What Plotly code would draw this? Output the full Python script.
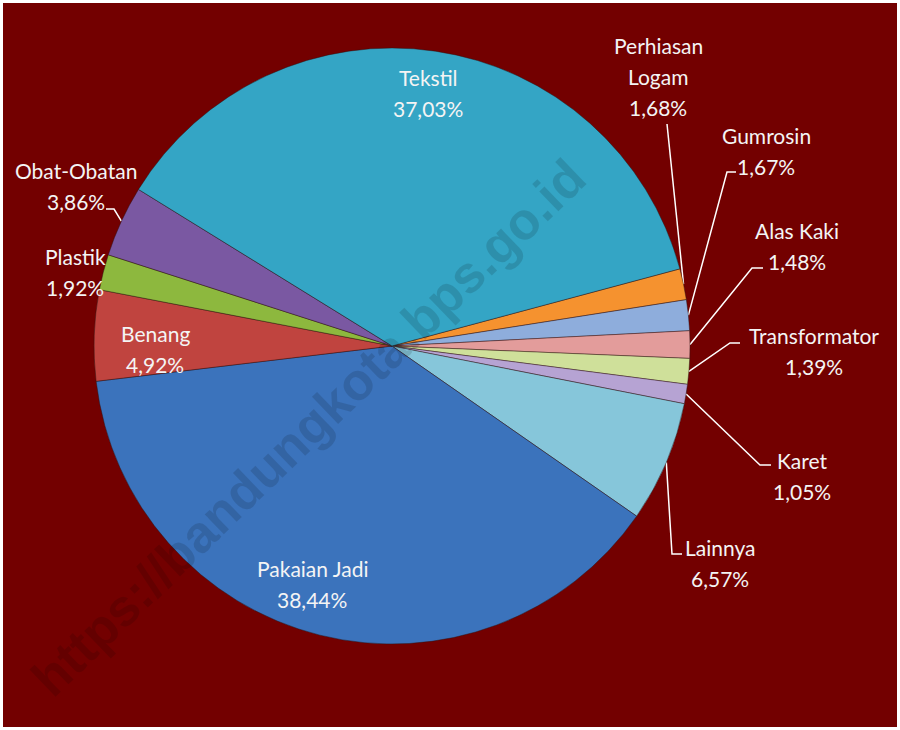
import math
import plotly.graph_objects as go

# ---- data (clockwise order, starting after Tekstil) ----
categories = ["Perhiasan Logam", "Gumrosin", "Alas Kaki", "Transformator", "Karet",
              "Lainnya", "Pakaian Jadi", "Benang", "Plastik", "Obat-Obatan", "Tekstil"]
values = [1.68, 1.67, 1.48, 1.39, 1.05, 6.57, 38.44, 4.92, 1.92, 3.86, 37.03]
label_lines = [["Perhiasan", "Logam"], ["Gumrosin"], ["Alas Kaki"], ["Transformator"], ["Karet"],
               ["Lainnya"], ["Pakaian Jadi"], ["Benang"], ["Plastik"], ["Obat-Obatan"], ["Tekstil"]]

colors = ["#F5922F", "#8EADDC", "#E39C9B", "#CFE09A", "#B6A3D3",
          "#86C6DA", "#3B73BC", "#C0443F", "#8DB83E", "#7A58A2", "#34A5C5"]

# ---- layout constants (pixels) ----
W, H = 900, 730
CX, CY, R = 392, 346, 298
ROT = 75
FONT = "Lato, 'Noto Sans', sans-serif"
TXT = "#F4F4F4"
FS = 21
LINE_H = 31

# label block positions (x center, y of first line) and leader anchor polylines
label_pos = {
    "Perhiasan Logam": (658, 45, [(667, 124)]),
    "Gumrosin": (766, 135, [(736, 172), (727, 172)]),
    "Alas Kaki": (797, 230, [(763, 268), (752, 268)]),
    "Transformator": (814, 335, [(740, 343), (730, 343)]),
    "Karet": (802, 460, [(771, 465), (760, 465)]),
    "Lainnya": (720, 547, [(682, 554), (672, 554)]),
    "Pakaian Jadi": (312, 568, None),
    "Benang": (155, 333, None),
    "Plastik": (75, 256, None),
    "Obat-Obatan": (76, 170, [(106, 209), (114, 209)]),
    "Tekstil": (428, 77, None),
}

fig = go.Figure()

# pie
fig.add_trace(go.Pie(
    labels=categories, values=values, sort=False, direction="clockwise",
    rotation=ROT, textinfo="none", hoverinfo="label+percent",
    marker=dict(colors=colors, line=dict(color="rgba(40,20,20,0.45)", width=1)),
    domain=dict(x=[(CX - R) / W, (CX + R) / W], y=[1 - (CY + R) / H, 1 - (CY - R) / H]),
    showlegend=False,
))

# leader lines (edge point computed from slice mid-angle)
total = sum(values)
cum = 0.0
annotations = []
for cat, v, lines in zip(categories, values, label_lines):
    mid = cum + v / 2
    cum += v
    ang = math.radians(ROT + mid / total * 360)
    ex, ey = CX + R * math.sin(ang), CY - R * math.cos(ang)
    x0, y0, pts = label_pos[cat]
    if pts:
        xs = [p[0] for p in pts] + [ex]
        ys = [p[1] for p in pts] + [ey]
        fig.add_trace(go.Scatter(x=xs, y=ys, mode="lines", line=dict(color="white", width=1.5),
                                 hoverinfo="skip", showlegend=False))
    pct = f"{v:.2f}".replace(".", ",") + "%"
    all_lines = lines + [pct]
    for i, t in enumerate(all_lines):
        annotations.append(dict(x=x0, y=y0 + i * LINE_H, xref="x", yref="y", text=t,
                                showarrow=False, xanchor="center", yanchor="middle",
                                font=dict(family=FONT, size=FS, color=TXT)))

# watermark
annotations.append(dict(x=308, y=428, xref="x", yref="y", text="https://bandungkota.bps.go.id",
                        showarrow=False, textangle=-44,
                        font=dict(family="'Liberation Sans', Arial, sans-serif", size=52,
                                  color="rgba(0,0,0,0.13)", weight="bold")))

fig.update_layout(
    width=W, height=H, margin=dict(l=0, r=0, t=0, b=0),
    paper_bgcolor="white", plot_bgcolor="rgba(0,0,0,0)",
    xaxis=dict(range=[0, W], visible=False, fixedrange=True),
    yaxis=dict(range=[H, 0], visible=False, fixedrange=True),
    shapes=[dict(type="rect", xref="x", yref="y", x0=3, y0=3, x1=897, y1=727,
                 fillcolor="#730000", line=dict(width=0), layer="below")],
    annotations=annotations,
)

fig.write_html("out.html", config={"displayModeBar": False},
               post_script="document.body.style.margin='0';")
